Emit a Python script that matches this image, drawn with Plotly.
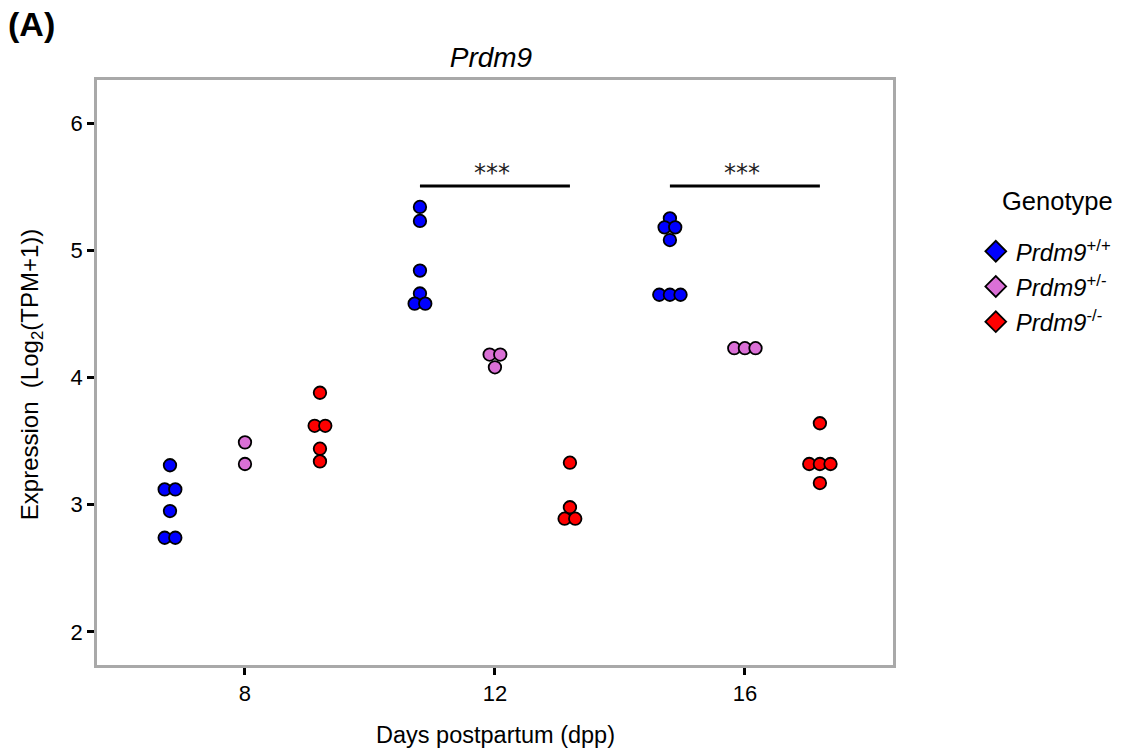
import plotly.graph_objects as go

# ---------------- data ----------------
days = [8, 12, 16]
genotypes = ["+/+", "+/-", "-/-"]
genotype_labels = ["<i>Prdm9</i><sup>+/+</sup>", "<i>Prdm9</i><sup>+/-</sup>", "<i>Prdm9</i><sup>-/-</sup>"]
legend_title = "Genotype"

wt_d8 = [3.31, 3.12, 3.12, 2.95, 2.74, 2.74]
het_d8 = [3.49, 3.32]
ko_d8 = [3.88, 3.62, 3.62, 3.44, 3.34]

wt_d12 = [5.34, 5.23, 4.84, 4.66, 4.58, 4.58]
het_d12 = [4.18, 4.18, 4.08]
ko_d12 = [3.33, 2.98, 2.89, 2.89]

wt_d16 = [5.25, 5.18, 5.18, 5.08, 4.65, 4.65, 4.65]
het_d16 = [4.23, 4.23, 4.23]
ko_d16 = [3.64, 3.32, 3.32, 3.32, 3.17]

values = {
    "+/+": [wt_d8, wt_d12, wt_d16],
    "+/-": [het_d8, het_d12, het_d16],
    "-/-": [ko_d8, ko_d12, ko_d16],
}

sig_days = [12, 16]
sig_label = "***"
sig_y = 5.505

# ---------------- style ----------------
colors = {"+/+": "#0000FF", "+/-": "#DA70D6", "-/-": "#FF0000"}
dodge = 1.2          # x-units between genotype groups
dot_step = 0.17      # x-units between side-by-side dots
FONT = "Liberation Sans, Arial, sans-serif"


def swarm_offsets(vals, step, tol=0.02):
    """Center dots with (near-)equal values side by side."""
    order = sorted(range(len(vals)), key=lambda i: vals[i])
    rows = []
    for i in order:
        if rows and abs(vals[i] - vals[rows[-1][0]]) < tol:
            rows[-1].append(i)
        else:
            rows.append([i])
    offs = [0.0] * len(vals)
    for r in rows:
        k = len(r)
        for j, i in enumerate(r):
            offs[i] = (j - (k - 1) / 2) * step
    return offs


fig = go.Figure()

for gi, g in enumerate(genotypes):
    xs, ys = [], []
    for di, d in enumerate(days):
        vals = values[g][di]
        center = d + (gi - 1) * dodge
        offs = swarm_offsets(vals, dot_step)
        xs += [center + o for o in offs]
        ys += vals
    fig.add_trace(go.Scatter(
        x=xs, y=ys, mode="markers", showlegend=False,
        marker=dict(symbol="circle", size=12.5, color=colors[g],
                    line=dict(color="black", width=1.8)),
    ))

# legend entries (diamonds)
for gi, g in enumerate(genotypes):
    fig.add_trace(go.Scatter(
        x=[None], y=[None], mode="markers", name=genotype_labels[gi],
        legendgroup=g,
        marker=dict(symbol="diamond", size=16, color=colors[g],
                    line=dict(color="black", width=1.8)),
    ))

# significance brackets
for d in sig_days:
    fig.add_shape(type="line", xref="x", yref="y",
                  x0=d - dodge, x1=d + dodge, y0=sig_y, y1=sig_y,
                  line=dict(color="black", width=2.8))
    fig.add_annotation(x=d - 0.04, y=sig_y, xref="x", yref="y", text=sig_label,
                       showarrow=False, yanchor="bottom", yshift=-3,
                       font=dict(family="DejaVu Sans", size=24, color="#222"))

fig.add_annotation(text="<b>(A)</b>", xref="paper", yref="paper",
                   x=-0.114, y=1.095, xanchor="left", yanchor="middle",
                   showarrow=False, font=dict(family=FONT, size=34, color="black"))

fig.add_annotation(text="Expression  (Log<sub>2</sub>(TPM+1))", xref="paper", yref="paper",
                   x=-0.083, y=0.497, textangle=-90, showarrow=False,
                   xanchor="center", yanchor="middle",
                   font=dict(family=FONT, size=24, color="black"))

fig.add_annotation(text="Days postpartum (dpp)", xref="paper", yref="paper",
                   x=0.5, y=-0.12, showarrow=False, xanchor="center", yanchor="middle",
                   font=dict(family=FONT, size=23.5, color="black"))

fig.add_annotation(text=legend_title, xref="paper", yref="paper",
                   x=1.135, y=0.793, showarrow=False, xanchor="left", yanchor="middle",
                   font=dict(family=FONT, size=25.5, color="black"))

axis_common = dict(showline=True, mirror=True, linecolor="#A9A9A9", linewidth=2.5,
                   ticks="outside", tickcolor="black", tickwidth=3, ticklen=7,
                   showgrid=False, zeroline=False,
                   tickfont=dict(family=FONT, size=22, color="black"))

fig.update_layout(
    width=1125, height=751,
    margin=dict(l=97, r=232, t=80, b=86, autoexpand=False),
    paper_bgcolor="white", plot_bgcolor="white",
    title=dict(text="<i>Prdm9</i>", x=0.4364, xref="container", y=0.924, yref="container",
               xanchor="center", yanchor="middle",
               font=dict(family=FONT, size=28, color="black")),
    xaxis=dict(range=[5.632, 18.37], tickvals=days, ticktext=[str(d) for d in days], **axis_common),
    yaxis=dict(range=[1.74, 6.338], tickvals=[2, 3, 4, 5, 6], **axis_common),
    legend=dict(x=1.104, y=0.745, xanchor="left", yanchor="top",
                font=dict(family=FONT, size=24, color="black"),
                tracegroupgap=1,
                bgcolor="rgba(0,0,0,0)"),
)

fig.write_html("out.html")
